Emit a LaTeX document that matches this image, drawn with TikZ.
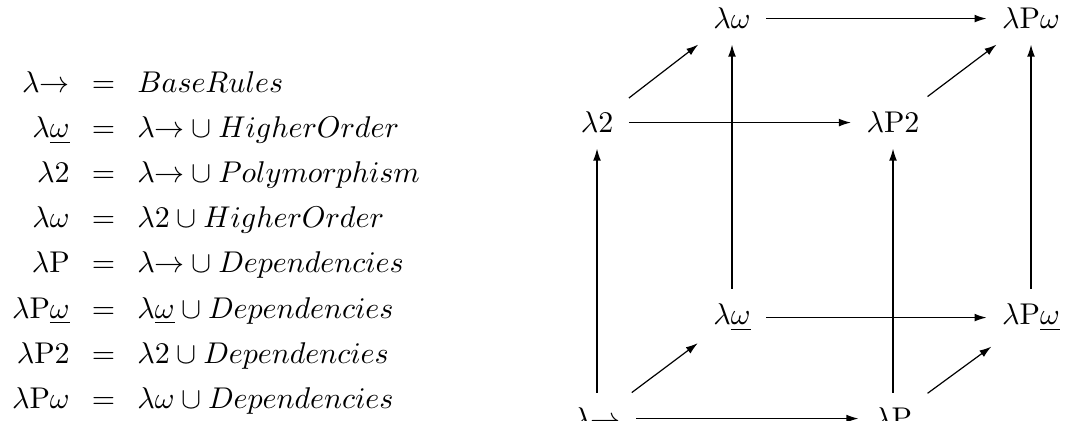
\documentclass[tikz,border=0pt]{standalone}
\usepackage{amsmath}
\usetikzlibrary{arrows.meta}

\begin{document}
\begin{tikzpicture}[
  x=0.3333pt, y=-0.3333pt,
  sys/.style={inner sep=5pt, anchor=base},
  arr/.style={-{Latex[length=4pt, width=2.6pt]}},
]
  \clip (0,0) rectangle (1069,421);

  % the eight systems, defined
  \node[inner sep=0pt, anchor=west] (defs) at (0.3,241.5) {%
    \renewcommand{\arraystretch}{1.25}\setlength{\arraycolsep}{3.7pt}%
    $\begin{array}{rcl}
      \lambda{\to} & = & BaseRules\\
      \lambda\underline{\omega} & = & \lambda{\to}\cup HigherOrder\\
      \lambda2 & = & \lambda{\to}\cup Polymorphism\\
      \lambda\omega & = & \lambda2\cup HigherOrder\\
      \lambda\mathrm{P} & = & \lambda{\to}\cup Dependencies\\
      \lambda\mathrm{P}\underline{\omega} & = & \lambda\underline{\omega}\cup Dependencies\\
      \lambda\mathrm{P}2 & = & \lambda2\cup Dependencies\\
      \lambda\mathrm{P}\omega & = & \lambda\omega\cup Dependencies
    \end{array}$};

  % the cube
  \node[sys] (lw)   at (732,29)   {$\lambda\omega$};
  \node[sys] (lPw)  at (1031,29)  {$\lambda\mathrm{P}\omega$};
  \node[sys] (l2)   at (597,133)  {$\lambda2$};
  \node[sys] (lP2)  at (893,133)  {$\lambda\mathrm{P}2$};
  \node[sys] (lwu)  at (732,325)  {$\lambda\underline{\omega}$};
  \node[sys] (lPwu) at (1031,325) {$\lambda\mathrm{P}\underline{\omega}$};
  \node[sys] (lto)  at (597,429)  {$\lambda{\to}$};
  \node[sys] (lP)   at (893,429)  {$\lambda\mathrm{P}$};

  \draw[arr] (lw) -- (lPw);
  \draw[arr] (l2) -- (lP2);
  \draw[arr] (lwu) -- (lPwu);
  \draw[arr] (lto) -- (lP);
  \draw[arr] (lto) -- (l2);
  \draw[arr] (lP) -- (lP2);
  \draw[arr] (lwu) -- (lw);
  \draw[arr] (lPwu) -- (lPw);
  \draw[arr] (l2) -- (lw);
  \draw[arr] (lP2) -- (lPw);
  \draw[arr] (lto) -- (lwu);
  \draw[arr] (lP) -- (lPwu);
\end{tikzpicture}
\end{document}
